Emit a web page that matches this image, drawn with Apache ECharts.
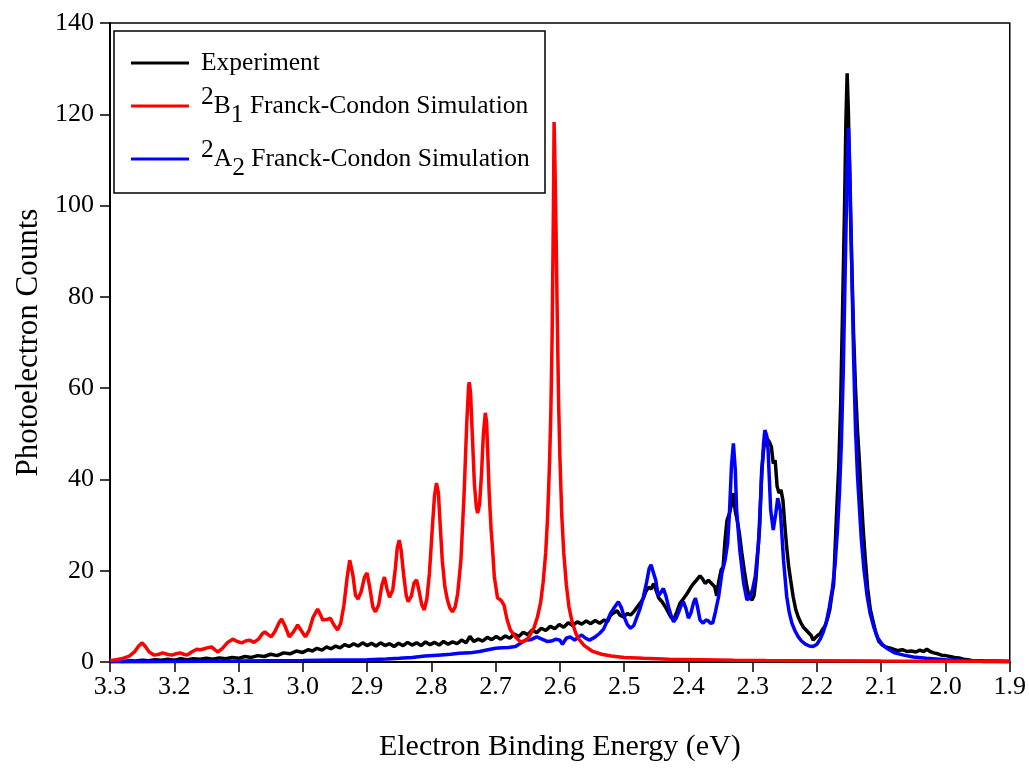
<!DOCTYPE html>
<html>
<head>
<meta charset="utf-8">
<script src="https://cdn.jsdelivr.net/npm/echarts@6/dist/echarts.min.js"></script>
<style>
html,body{margin:0;padding:0;background:#fff;}
#chart{width:1029px;height:771px;}
</style>
</head>
<body>
<div id="chart"></div>
<script>
// ---- data (binding energy in eV, photoelectron counts) ----
const seriesNames = ['Experiment', '2B1 Franck-Condon Simulation', '2A2 Franck-Condon Simulation'];
const xTicks = [3.3, 3.2, 3.1, 3.0, 2.9, 2.8, 2.7, 2.6, 2.5, 2.4, 2.3, 2.2, 2.1, 2.0, 1.9];
const yTicks = [0, 20, 40, 60, 80, 100, 120, 140];

const experiment = [
[3.300,0.1],[3.290,0.2],[3.280,0.1],[3.270,0.3],[3.260,0.2],[3.250,0.4],[3.240,0.3],[3.230,0.5],[3.220,0.4],[3.210,0.6],
[3.200,0.4],[3.190,0.7],[3.180,0.5],[3.170,0.7],[3.160,0.6],[3.150,0.8],[3.140,0.6],[3.130,0.9],[3.120,0.7],[3.110,1.0],
[3.100,0.8],[3.090,1.2],[3.080,1.0],[3.070,1.4],[3.060,1.2],[3.050,1.7],[3.040,1.4],[3.030,2.0],[3.020,1.8],[3.010,2.4],
[3.000,2.1],[2.992,2.7],[2.985,2.4],[2.978,3.0],[2.970,2.6],[2.963,3.3],[2.956,2.9],[2.949,3.5],[2.942,3.1],[2.935,3.8],
[2.928,3.4],[2.921,4.0],[2.914,3.5],[2.907,4.2],[2.900,3.6],[2.893,4.1],[2.886,3.5],[2.879,4.2],[2.872,3.6],[2.865,4.0],
[2.858,3.4],[2.851,4.1],[2.844,3.6],[2.837,4.3],[2.830,3.7],[2.823,4.2],[2.816,3.6],[2.809,4.4],[2.802,3.8],[2.795,4.3],
[2.788,3.7],[2.781,4.5],[2.774,3.9],[2.767,4.4],[2.760,4.0],[2.753,4.8],[2.746,4.2],[2.740,5.6],[2.734,4.5],[2.727,5.0],
[2.720,4.6],[2.713,5.4],[2.706,4.9],[2.699,5.6],[2.692,5.0],[2.685,5.7],[2.678,5.2],[2.671,6.1],[2.664,5.6],[2.657,6.5],
[2.650,6.0],[2.643,7.0],[2.636,6.4],[2.629,7.4],[2.622,6.9],[2.615,7.8],[2.608,7.3],[2.601,8.2],[2.594,7.6],[2.587,8.6],
[2.580,8.0],[2.573,8.8],[2.566,8.3],[2.559,9.0],[2.552,8.4],[2.545,9.1],[2.538,8.5],[2.531,9.2],[2.526,8.8],[2.521,10.3],
[2.516,10.8],[2.511,11.2],[2.506,10.2],[2.501,9.9],[2.495,10.6],[2.490,10.3],[2.485,11.0],[2.480,12.0],[2.475,12.9],[2.470,14.0],
[2.466,15.5],[2.462,16.4],[2.458,16.0],[2.454,17.2],[2.450,15.6],[2.446,14.0],[2.441,13.2],[2.436,12.1],[2.431,10.8],[2.427,9.8],
[2.423,9.2],[2.418,11.0],[2.413,12.9],[2.408,13.8],[2.402,15.0],[2.397,16.2],[2.392,17.2],[2.387,18.0],[2.382,18.9],[2.378,18.2],
[2.374,17.2],[2.369,17.9],[2.364,17.2],[2.359,16.5],[2.356,14.5],[2.353,17.5],[2.349,20.2],[2.346,20.8],[2.343,26.7],[2.340,31.0],
[2.336,32.6],[2.333,34.5],[2.330,37.0],[2.327,33.0],[2.324,31.0],[2.321,28.5],[2.317,24.0],[2.313,20.0],[2.309,16.5],[2.305,14.0],
[2.301,13.6],[2.298,14.5],[2.295,18.0],[2.292,24.0],[2.289,30.0],[2.286,42.0],[2.283,46.5],[2.280,49.4],[2.277,49.0],[2.274,48.2],
[2.271,47.2],[2.268,43.5],[2.265,44.2],[2.262,38.5],[2.259,37.0],[2.256,37.7],[2.253,35.5],[2.250,30.0],[2.247,25.0],[2.244,21.0],
[2.241,18.0],[2.237,14.3],[2.233,11.5],[2.229,9.8],[2.225,8.6],[2.221,7.6],[2.217,7.0],[2.213,6.4],[2.209,5.8],[2.206,4.8],
[2.203,5.0],[2.199,5.8],[2.195,6.2],[2.191,7.2],[2.187,8.0],[2.183,9.8],[2.180,11.5],[2.177,14.5],[2.174,17.0],[2.172,24.0],
[2.169,34.0],[2.166,43.0],[2.163,57.0],[2.160,78.0],[2.157,100.0],[2.155,118.0],[2.153,129.0],[2.151,120.0],[2.149,105.0],[2.146,88.0],
[2.143,72.0],[2.140,60.0],[2.137,51.0],[2.134,44.0],[2.131,36.0],[2.128,29.0],[2.125,23.0],[2.121,16.0],[2.117,11.5],[2.112,8.5],
[2.108,6.2],[2.104,4.6],[2.099,3.8],[2.093,3.3],[2.087,3.1],[2.081,2.8],[2.074,2.5],[2.067,2.7],[2.060,2.3],[2.053,2.4],
[2.046,2.2],[2.040,2.6],[2.034,2.3],[2.029,2.8],[2.024,2.3],[2.018,2.0],[2.012,1.8],[2.006,1.5],[2.000,1.4],[1.993,1.2],
[1.986,1.0],[1.979,0.9],[1.972,0.6],[1.965,0.5],[1.958,0.3],[1.950,0.2],[1.940,0.1],[1.920,0.1],[1.900,0.05]
];

const simB1 = [
[3.300,0.3],[3.290,0.5],[3.280,0.8],[3.270,1.3],[3.262,2.2],[3.256,3.4],[3.250,4.2],[3.245,3.4],[3.239,2.2],[3.231,1.5],
[3.224,1.7],[3.218,2.0],[3.211,1.7],[3.204,1.5],[3.197,1.8],[3.191,2.0],[3.185,1.7],[3.180,1.5],[3.173,2.2],[3.165,2.8],
[3.160,2.7],[3.156,2.8],[3.149,3.1],[3.142,3.3],[3.136,2.6],[3.132,2.2],[3.125,3.0],[3.117,4.3],[3.109,5.0],[3.102,4.5],
[3.095,4.2],[3.089,4.6],[3.083,4.8],[3.076,4.3],[3.069,5.0],[3.063,6.2],[3.059,6.6],[3.054,6.0],[3.049,5.5],[3.043,6.8],
[3.037,8.6],[3.033,9.4],[3.028,8.0],[3.021,5.5],[3.015,6.5],[3.008,8.1],[3.002,6.8],[2.996,5.5],[2.990,7.0],[2.984,9.8],
[2.977,11.6],[2.972,10.2],[2.969,9.2],[2.963,9.3],[2.957,9.6],[2.952,8.2],[2.946,7.0],[2.941,8.5],[2.936,12.5],[2.931,18.5],
[2.927,22.3],[2.922,19.0],[2.918,14.6],[2.914,13.8],[2.909,15.5],[2.904,18.6],[2.900,19.5],[2.896,16.5],[2.891,12.0],[2.887,11.0],
[2.882,12.5],[2.877,16.8],[2.873,18.6],[2.869,16.0],[2.865,14.2],[2.860,15.8],[2.856,20.5],[2.853,25.0],[2.850,26.7],[2.847,24.5],
[2.843,19.0],[2.839,14.5],[2.836,13.2],[2.831,14.5],[2.827,17.3],[2.823,18.0],[2.819,15.5],[2.815,12.6],[2.811,11.4],[2.807,13.8],
[2.803,19.4],[2.798,30.4],[2.795,36.5],[2.792,39.2],[2.789,37.0],[2.786,29.5],[2.783,22.3],[2.779,16.5],[2.775,13.6],[2.771,11.8],
[2.767,11.0],[2.763,12.0],[2.759,15.0],[2.754,22.3],[2.749,37.0],[2.745,52.0],[2.742,60.5],[2.741,61.3],[2.739,59.0],[2.736,49.0],
[2.733,39.0],[2.730,34.0],[2.728,32.6],[2.725,34.5],[2.722,41.0],[2.719,50.0],[2.716,54.6],[2.714,52.5],[2.712,45.0],[2.710,37.0],
[2.707,29.0],[2.705,25.3],[2.702,18.7],[2.697,14.0],[2.692,13.6],[2.687,12.5],[2.682,9.2],[2.677,7.0],[2.669,5.5],[2.661,4.4],
[2.655,4.6],[2.650,5.1],[2.645,6.3],[2.640,7.6],[2.635,9.8],[2.630,13.0],[2.626,17.5],[2.622,24.0],[2.619,32.0],[2.616,44.0],
[2.614,55.0],[2.612,72.0],[2.610,100.0],[2.609,118.3],[2.608,112.0],[2.606,95.0],[2.604,75.0],[2.602,57.0],[2.600,45.0],[2.597,32.0],
[2.594,24.0],[2.590,17.0],[2.586,12.2],[2.581,8.8],[2.575,6.2],[2.570,4.9],[2.562,3.6],[2.550,2.4],[2.535,1.7],[2.520,1.3],
[2.500,1.0],[2.470,0.8],[2.430,0.6],[2.380,0.5],[2.330,0.4],[2.280,0.35],[2.200,0.3],[2.100,0.2],[2.000,0.15],[1.900,0.1]
];

const simA2 = [
[3.300,0.05],[3.250,0.08],[3.200,0.1],[3.150,0.15],[3.100,0.2],[3.050,0.28],[3.000,0.35],[2.950,0.45],[2.900,0.5],[2.870,0.65],
[2.850,0.8],[2.830,1.0],[2.810,1.3],[2.790,1.5],[2.770,1.7],[2.757,1.9],[2.740,2.0],[2.725,2.3],[2.712,2.7],[2.700,3.0],
[2.690,3.1],[2.680,3.2],[2.669,3.4],[2.660,4.2],[2.653,4.8],[2.645,4.9],[2.636,5.5],[2.628,5.0],[2.620,4.5],[2.613,4.6],
[2.606,5.0],[2.600,4.8],[2.596,3.9],[2.590,5.2],[2.584,5.5],[2.577,4.8],[2.570,5.6],[2.566,5.9],[2.560,5.2],[2.554,4.8],
[2.546,5.4],[2.538,6.3],[2.532,7.2],[2.527,8.8],[2.521,10.7],[2.515,12.0],[2.509,13.2],[2.504,11.8],[2.500,9.9],[2.495,8.2],
[2.490,7.4],[2.485,8.0],[2.480,9.9],[2.475,11.8],[2.470,14.3],[2.465,17.5],[2.461,20.5],[2.458,21.3],[2.455,19.8],[2.451,18.0],
[2.447,14.5],[2.443,15.2],[2.439,16.1],[2.435,14.5],[2.431,12.1],[2.427,10.2],[2.423,8.8],[2.419,9.6],[2.415,11.0],[2.411,12.5],
[2.408,13.2],[2.404,11.8],[2.400,9.6],[2.396,10.8],[2.392,13.0],[2.389,14.0],[2.386,12.2],[2.382,9.2],[2.377,8.5],[2.373,9.2],
[2.369,9.0],[2.366,8.5],[2.362,8.6],[2.358,11.0],[2.353,14.3],[2.348,19.4],[2.343,22.3],[2.339,26.0],[2.336,33.0],[2.333,43.0],
[2.330,47.9],[2.327,42.0],[2.325,33.3],[2.320,24.5],[2.314,17.2],[2.309,13.6],[2.304,14.3],[2.300,16.0],[2.296,18.7],[2.291,26.0],
[2.286,40.6],[2.283,48.0],[2.281,50.8],[2.278,49.5],[2.276,46.4],[2.272,33.3],[2.268,28.9],[2.264,32.6],[2.261,35.9],[2.257,33.3],
[2.252,22.3],[2.247,14.3],[2.243,10.8],[2.239,8.5],[2.234,6.8],[2.229,5.5],[2.224,4.6],[2.218,3.9],[2.212,3.5],[2.206,3.4],
[2.200,3.9],[2.195,5.0],[2.190,6.6],[2.185,9.0],[2.181,11.8],[2.176,16.0],[2.172,21.0],[2.168,29.0],[2.165,37.0],[2.162,48.0],
[2.159,64.0],[2.156,86.0],[2.153,108.0],[2.151,117.0],[2.149,109.0],[2.146,88.0],[2.143,67.0],[2.140,51.0],[2.137,41.0],[2.134,34.0],
[2.131,27.0],[2.127,20.5],[2.122,14.5],[2.117,10.5],[2.111,7.4],[2.105,5.2],[2.098,3.8],[2.090,2.9],[2.079,2.0],[2.065,1.5],
[2.050,1.1],[2.030,0.8],[2.000,0.5],[1.970,0.35],[1.940,0.25],[1.900,0.15]
];

// ---- chart ----
const FONT = '"Liberation Serif", "Times New Roman", serif';
const chart = echarts.init(document.getElementById('chart'));

const legendBase = {
  orient: 'vertical', left: 131, padding: 0, itemWidth: 58, itemHeight: 3, icon: 'rect',
  selectedMode: false,
  textStyle: {
    fontFamily: FONT, fontSize: 25.5, color: '#000', padding: [0, 0, 0, 7],
    rich: {
      m: { fontFamily: FONT, fontSize: 25.5, color: '#000', lineHeight: 44 },
      sup: { fontFamily: FONT, fontSize: 25.5, color: '#000', lineHeight: 25, verticalAlign: 'top' },
      sub: { fontFamily: FONT, fontSize: 25.5, color: '#000', lineHeight: 25, verticalAlign: 'bottom' }
    }
  }
};

function legendLabel(name) {
  if (name === seriesNames[1]) return '{sup|2}{m|B}{sub|1}{m| Franck-Condon Simulation}';
  if (name === seriesNames[2]) return '{sup|2}{m|A}{sub|2}{m| Franck-Condon Simulation}';
  return name;
}

const option = {
  animation: false,
  backgroundColor: '#fff',
  grid: { left: 110, right: 17, top: 23, bottom: 109, show: true, borderColor: '#000', borderWidth: 1.5 },
  graphic: [{
    type: 'rect', z: 100, silent: true,
    shape: { x: 114, y: 31, width: 431, height: 162 },
    style: { fill: 'none', stroke: '#000', lineWidth: 1.5 }
  }],
  legend: [
    Object.assign({}, legendBase, { data: [seriesNames[0]], top: 48,
      textStyle: Object.assign({}, legendBase.textStyle, { lineHeight: 30 }) }),
    Object.assign({}, legendBase, { data: [seriesNames[1]], top: 84, formatter: legendLabel }),
    Object.assign({}, legendBase, { data: [seriesNames[2]], top: 137, formatter: legendLabel })
  ],
  xAxis: {
    type: 'value', min: xTicks[xTicks.length - 1], max: xTicks[0], interval: 0.1, inverse: true,
    name: 'Electron Binding Energy (eV)', nameLocation: 'middle', nameGap: 70,
    nameTextStyle: { fontFamily: FONT, fontSize: 30, color: '#000' },
    axisLine: { onZero: false, lineStyle: { color: '#000', width: 2 } },
    axisTick: { inside: false, length: 10, lineStyle: { color: '#000', width: 1.5 } },
    axisLabel: { fontFamily: FONT, fontSize: 26, color: '#000', margin: 12, formatter: v => v.toFixed(1) },
    splitLine: { show: false }
  },
  yAxis: {
    type: 'value', min: yTicks[0], max: yTicks[yTicks.length - 1], interval: 20,
    name: 'Photoelectron Counts', nameLocation: 'middle', nameGap: 66,
    nameTextStyle: { fontFamily: FONT, fontSize: 31, color: '#000' },
    axisLine: { show: true, lineStyle: { color: '#000', width: 2 } },
    axisTick: { show: true, inside: false, length: 10, lineStyle: { color: '#000', width: 1.5 } },
    axisLabel: { fontFamily: FONT, fontSize: 26, color: '#000', margin: 16 },
    splitLine: { show: false }
  },
  series: [
    { name: seriesNames[0], type: 'line', data: experiment, symbol: 'none', showSymbol: false,
      lineStyle: { color: '#000', width: 3.5 }, itemStyle: { color: '#000' }, z: 2 },
    { name: seriesNames[2], type: 'line', data: simA2, symbol: 'none', showSymbol: false,
      lineStyle: { color: '#0000ff', width: 3.5 }, itemStyle: { color: '#0000ff' }, z: 3 },
    { name: seriesNames[1], type: 'line', data: simB1, symbol: 'none', showSymbol: false,
      lineStyle: { color: '#ff0000', width: 3.5 }, itemStyle: { color: '#ff0000' }, z: 4 }
  ]
};
chart.setOption(option);
</script>
</body>
</html>
